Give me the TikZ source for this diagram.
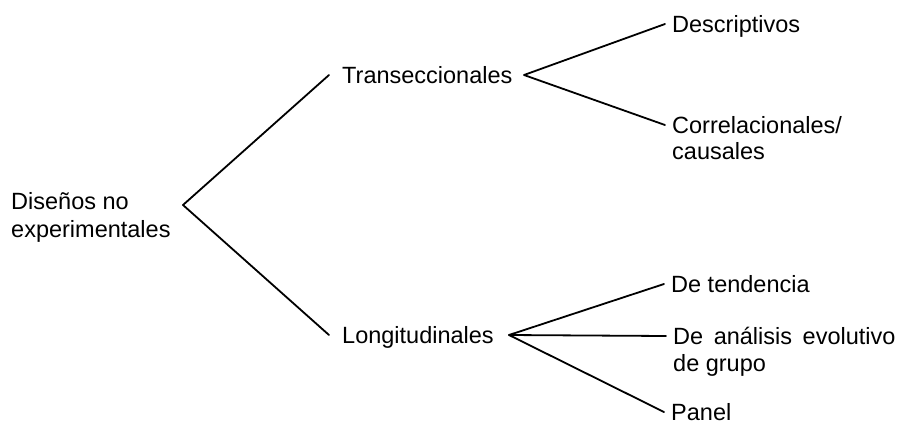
\documentclass[tikz,border=0pt]{standalone}
\usepackage{fontspec}
\setmainfont{Liberation Sans}
\begin{document}
\begin{tikzpicture}[x=1pt,y=-1pt,
  lbl/.style={inner ysep=0pt, inner xsep=7pt, anchor=base west, text height=16pt, text depth=0pt,
    font=\fontsize{23.5}{27}\selectfont},
  plbl/.style={lbl, inner xsep=13pt},
  cont/.style={inner sep=0pt, anchor=base west, font=\fontsize{23.5}{27}\selectfont},
  conn/.style={line width=1.8pt, line cap=round, line join=round}]
\useasboundingbox (0,0) rectangle (900,424);
\fill[white] (0,0) rectangle (900,424);
% root
\node[cont] (dis1) at (11,209) {Diseños no};
\node[cont] (dis2) at (11,237) {experimentales};
\coordinate (v0) at (183,205);
% level 1
\node[plbl] (trans) at (329,83) {Transeccionales};
\node[plbl] (long) at (329,343) {Longitudinales};
\coordinate (v1) at (524,75);
\coordinate (v2) at (509,335);
% level 2
\node[lbl] (desc) at (665,32) {Descriptivos};
\node[lbl] (corr) at (665,133) {Correlacionales/};
\node[cont] (corr2) at (672,159) {causales};
\node[lbl] (tend) at (664,292) {De tendencia};
\node[lbl] (anal) at (666,344) {De\hspace{0.45em}análisis\hspace{0.45em}evolutivo};
\node[cont] (anal2) at (673,371) {de grupo};
\node[lbl] (panel) at (664,420) {Panel};
% connectors
\draw[conn] (trans.west) -- (v0) -- (long.west);
\draw[conn] (desc.west) -- (v1) -- (corr.west);
\draw[conn] (tend.west) -- (v2) -- (panel.west);
\draw[conn] (v2) -- (anal.west);
\end{tikzpicture}
\end{document}
